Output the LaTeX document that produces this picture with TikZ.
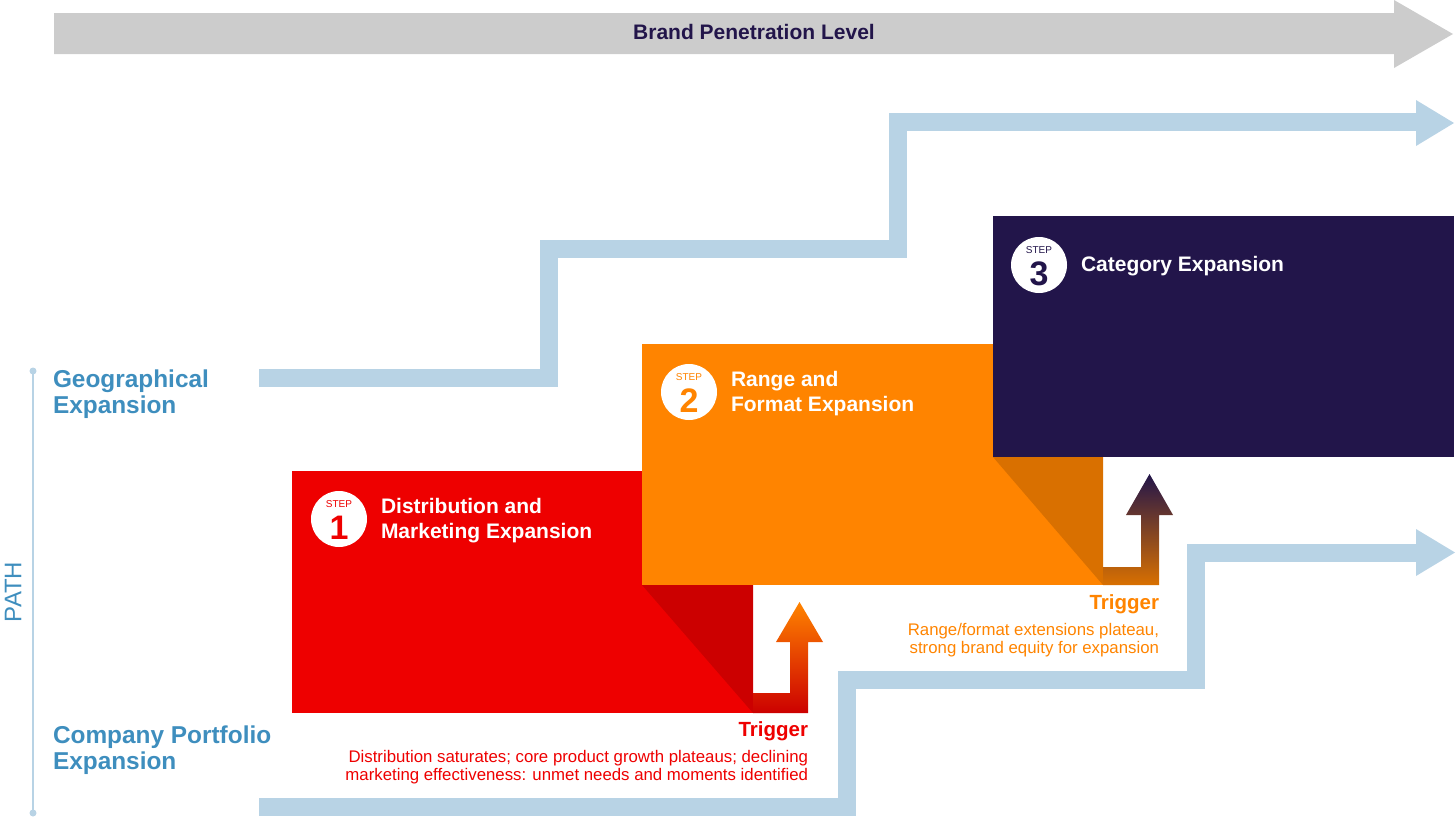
\documentclass[tikz,border=0pt]{standalone}
\usepackage{fontspec}
\setmainfont{Liberation Sans}
\definecolor{barGray}{HTML}{CCCCCC}
\definecolor{pathBlue}{HTML}{B8D3E5}
\definecolor{labelBlue}{HTML}{3E8EBE}
\definecolor{navy}{HTML}{22154A}
\definecolor{stepRed}{HTML}{EE0000}
\definecolor{shadeRed}{HTML}{CC0000}
\definecolor{stepOrange}{HTML}{FF8400}
\definecolor{shadeOrange}{HTML}{D97000}
\begin{document}
\begin{tikzpicture}[x=1pt,y=-1pt,
  every node/.style={inner sep=0pt,outer sep=0pt},
  stepbox/.style={minimum width=461pt,minimum height=242pt,anchor=north west},
  stepcircle/.style={circle,fill=white,minimum size=56pt},
  steplabel/.style={font=\fontsize{10}{12}\selectfont,anchor=base},
  stepnum/.style={font=\fontsize{34}{34}\selectfont\bfseries,anchor=base},
  boxtitle/.style={font=\fontsize{21}{25}\selectfont\bfseries,text=white,anchor=base west},
  sidelabel/.style={font=\fontsize{24.4}{26}\selectfont\bfseries,text=labelBlue,anchor=base west},
  trighead/.style={font=\fontsize{20.5}{24}\selectfont\bfseries,anchor=base east},
  trigtext/.style={font=\fontsize{16.8}{18}\selectfont,anchor=base east},
  bluepath/.style={draw=pathBlue,line width=18pt,line join=miter},
]
\useasboundingbox (0,0) rectangle (1456,827);

% top gray arrow
\fill[barGray] (54,13) -- (1394,13) -- (1394,0) -- (1453,34) -- (1394,68) -- (1394,54) -- (54,54) -- cycle;
\node[font=\fontsize{21}{22}\selectfont\bfseries,text=navy,anchor=base] (brand) at (754,39.5) {Brand Penetration Level};

% blue paths
\draw[bluepath] (259,377.5) -- (549,377.5) -- (549,249) -- (898,249) -- (898,121.5) -- (1417,121.5);
\fill[pathBlue] (1416,100) -- (1454,123) -- (1416,146) -- cycle;
\draw[bluepath] (259,806.5) -- (847,806.5) -- (847,679.5) -- (1196,679.5) -- (1196,552.5) -- (1417,552.5);
\fill[pathBlue] (1416,529) -- (1455,552.5) -- (1416,576) -- cycle;

% path axis
\coordinate (axtop) at (33,371);
\coordinate (axbot) at (33,813);
\draw[pathBlue,line width=2pt] (axtop) -- (axbot);
\fill[pathBlue] (axtop) circle (3.5pt) (axbot) circle (3.5pt);
\node[font=\fontsize{24}{24}\selectfont,text=labelBlue,rotate=90] (pathlbl) at (13,592) {PATH};

% side labels
\node[sidelabel] (geo1) at (53,387) {Geographical};
\node[sidelabel] (geo2) at (53,413) {Expansion};
\node[sidelabel] (comp1) at (53,743) {Company Portfolio};
\node[sidelabel] (comp2) at (53,769) {Expansion};

% boxes
\node[stepbox,fill=stepRed] (box1) at (292,471) {};
\fill[shadeRed] (642,585) -- (753,585) -- (753,713) -- cycle;
\node[stepbox,fill=stepOrange,minimum height=241pt] (box2) at (642,344) {};
\fill[shadeOrange] (993,457) -- (1103,457) -- (1103,585) -- cycle;
\node[stepbox,fill=navy,minimum height=241pt] (box3) at (993,216) {};

% trigger arrows
\shade[top color=stepOrange,bottom color=shadeRed] (753,693) -- (790,693) -- (790,642) -- (776,642) -- (799.5,602) -- (823,642) -- (808,642) -- (808,713) -- (753,713) -- cycle;
\shade[top color=navy,bottom color=shadeOrange] (1103,567) -- (1141,567) -- (1141,515) -- (1126,515) -- (1149.5,474) -- (1173,515) -- (1159,515) -- (1159,585) -- (1103,585) -- cycle;

% step 1
\node[stepcircle] (c1) at (339,519) {};
\node[steplabel,text=stepRed] (s1) at (339,507) {STEP};
\node[stepnum,text=stepRed] (n1) at (339,539) {1};
\node[boxtitle] (t1a) at (381,513) {Distribution and};
\node[boxtitle] (t1b) at (381,538) {Marketing Expansion};

% step 2
\node[stepcircle] (c2) at (689,392) {};
\node[steplabel,text=stepOrange] (s2) at (689,380) {STEP};
\node[stepnum,text=stepOrange] (n2) at (689,412) {2};
\node[boxtitle] (t2a) at (731,386) {Range and};
\node[boxtitle] (t2b) at (731,411) {Format Expansion};

% step 3
\node[stepcircle] (c3) at (1039,265) {};
\node[steplabel,text=navy] (s3) at (1039,253) {STEP};
\node[stepnum,text=navy] (n3) at (1039,285) {3};
\node[boxtitle] (t3) at (1081,271) {Category Expansion};

% trigger texts
\node[trighead,text=stepRed] (tr1) at (808,736) {Trigger};
\node[trigtext,text=stepRed] (tr1a) at (808,762) {Distribution saturates; core product growth plateaus; declining};
\node[trigtext,text=stepRed] (tr1b) at (808,780) {marketing effectiveness: unmet needs and moments identified};
\node[trighead,text=stepOrange] (tr2) at (1159,609) {Trigger};
\node[trigtext,text=stepOrange] (tr2a) at (1159,635) {Range/format extensions plateau,};
\node[trigtext,text=stepOrange] (tr2b) at (1159,653) {strong brand equity for expansion};
\end{tikzpicture}
\end{document}
